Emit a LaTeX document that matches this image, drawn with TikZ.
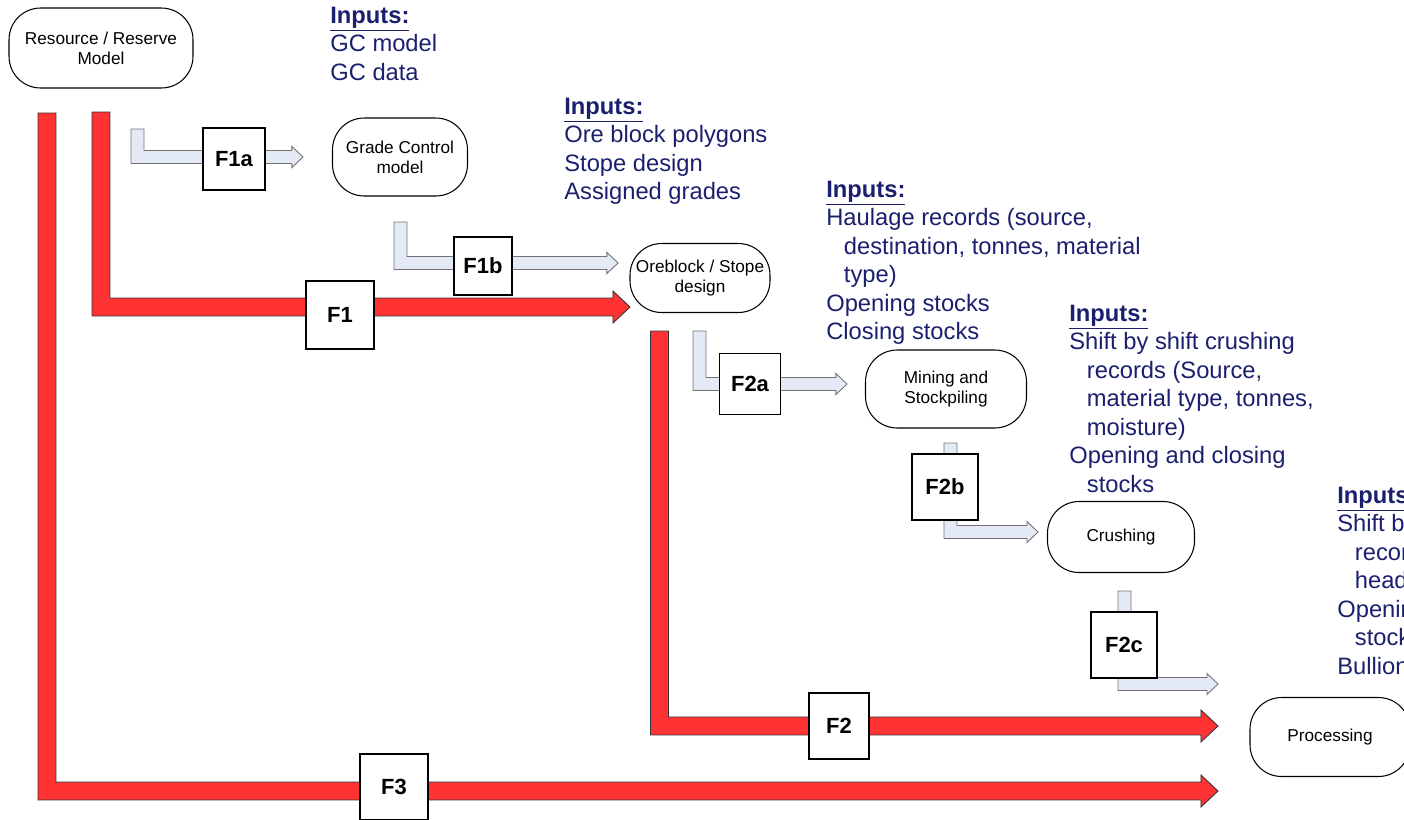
\documentclass[tikz,border=0pt]{standalone}
\usepackage{fontspec}
\setmainfont{Liberation Sans}
\usetikzlibrary{calc}

\definecolor{inkblue}{HTML}{1A1F6E}
\definecolor{flowred}{HTML}{FF3333}
\definecolor{flowblue}{HTML}{E4EAF5}

% bent block arrow: style, start (top of the shaft), tip, half width, half head, head length
\newcommand\bentarrow[6]{%
  \path[#1] let \p1=(#2), \p2=(#3) in
    (\x1-#4,\y1) -- (\x1-#4,\y2-#4) -- (\x2-#6,\y2-#4) -- (\x2-#6,\y2-#5)
    -- (\x2,\y2) -- (\x2-#6,\y2+#5) -- (\x2-#6,\y2+#4) -- (\x1+#4,\y2+#4)
    -- (\x1+#4,\y1) -- cycle;}
\newcommand\redflow[2]{\bentarrow{redfill}{#1}{#2}{5.1pt}{9.1pt}{9.7pt}}
\newcommand\blueflow[2]{\bentarrow{bluefill}{#1}{#2}{3.7pt}{6pt}{6.3pt}}

\tikzset{
  stage/.style={draw, line width=0.6pt, rounded corners=18pt, align=center,
    font=\fontsize{9.8}{11.5}\selectfont, inner sep=2pt},
  fbox/.style={draw, line width=1pt, fill=white,
    font=\fontsize{12.5}{15}\selectfont\bfseries, minimum size=1.24cm},
  inputs/.style={anchor=base west, align=left, inner sep=0pt, text=inkblue,
    font=\fontsize{13.5}{16.2}\selectfont},
  redfill/.style={fill=flowred, draw=black!80, line width=0.5pt},
  bluefill/.style={fill=flowblue, draw=black!55, line width=0.5pt},
}

\begin{document}
\begin{tikzpicture}[x=0.02cm, y=-0.02cm]
\useasboundingbox (0,0) rectangle (1404,819);
\clip (0,0) rectangle (1404,819);

% flow ends
\coordinate (f1s) at (101,112);   \coordinate (f1t) at (630,307);
\coordinate (f2s) at (659.5,331); \coordinate (f2t) at (1218,726);
\coordinate (f3s) at (47,113);    \coordinate (f3t) at (1218,791);
\coordinate (f1as) at (137.5,129); \coordinate (f1at) at (303,157);
\coordinate (f1bs) at (400.5,222); \coordinate (f1bt) at (618,263);
\coordinate (f2as) at (699.5,331); \coordinate (f2at) at (847,384);
\coordinate (f2bs) at (950.5,443); \coordinate (f2bt) at (1038,532);
\coordinate (f2cs) at (1124.5,591); \coordinate (f2ct) at (1218,684);

\redflow{f3s}{f3t}
\redflow{f1s}{f1t}
\redflow{f2s}{f2t}
\blueflow{f1as}{f1at}
\blueflow{f1bs}{f1bt}
\blueflow{f2as}{f2at}
\blueflow{f2bs}{f2bt}
\blueflow{f2cs}{f2ct}

% stages
\node[stage, minimum width=3.68cm, minimum height=1.6cm] (rrm) at (101,48) {Resource / Reserve\\Model};
\node[stage, minimum width=2.7cm, minimum height=1.56cm] (gcm) at (400,157) {Grade Control\\model};
\node[stage, minimum width=2.8cm, minimum height=1.38cm] (osd) at (700,278) {Oreblock / Stope\\design};
\node[stage, minimum width=3.22cm, minimum height=1.56cm] (msp) at (946,389) {Mining and\\Stockpiling};
\node[stage, minimum width=2.94cm, minimum height=1.42cm] (cru) at (1121,537) {Crushing};
\node[stage, minimum width=3.2cm, minimum height=1.58cm] (pro) at (1330,737) {Processing};

% flow labels
\node[fbox] (F1a) at (234,159) {F1a};
\node[fbox, minimum size=1.16cm] (F1b) at (483,266) {F1b};
\node[fbox, minimum size=1.36cm] (F1) at (340,315) {F1};
\node[fbox, minimum size=1.22cm] (F2a) at (750,384) {F2a};
\node[fbox, minimum size=1.32cm] (F2b) at (945,487) {F2b};
\node[fbox, minimum size=1.32cm] (F2c) at (1124,645) {F2c};
\node[fbox, minimum width=1.2cm, minimum height=1.32cm] (F2) at (839,726) {F2};
\node[fbox, minimum width=1.36cm, minimum height=1.32cm] (F3) at (394,787) {F3};

% inputs (anchored on the baseline of the last line)
\node[inputs] (in1) at (330,80) {\underline{\textbf{Inputs:}}\\GC model\\GC data};
\node[inputs] (in2) at (564,199.5) {\underline{\textbf{Inputs:}}\\Ore block polygons\\Stope design\\Assigned grades};
\node[inputs] (in3) at (826,339.5) {\underline{\textbf{Inputs:}}\\Haulage records (source,\\
  \hspace*{10pt}destination, tonnes, material\\\hspace*{10pt}type)\\Opening stocks\\Closing stocks};
\node[inputs] (in4) at (1069,492) {\underline{\textbf{Inputs:}}\\Shift by shift crushing\\
  \hspace*{10pt}records (Source,\\\hspace*{10pt}material type, tonnes,\\\hspace*{10pt}moisture)\\
  Opening and closing\\\hspace*{10pt}stocks};
\node[inputs] (in5) at (1337,674) {\underline{\textbf{Inputs:}}\\Shift by shift mill\\
  \hspace*{10pt}records (tonnes,\\\hspace*{10pt}head grade)\\Opening and closing\\
  \hspace*{10pt}stocks\\Bullion};
\end{tikzpicture}
\end{document}
